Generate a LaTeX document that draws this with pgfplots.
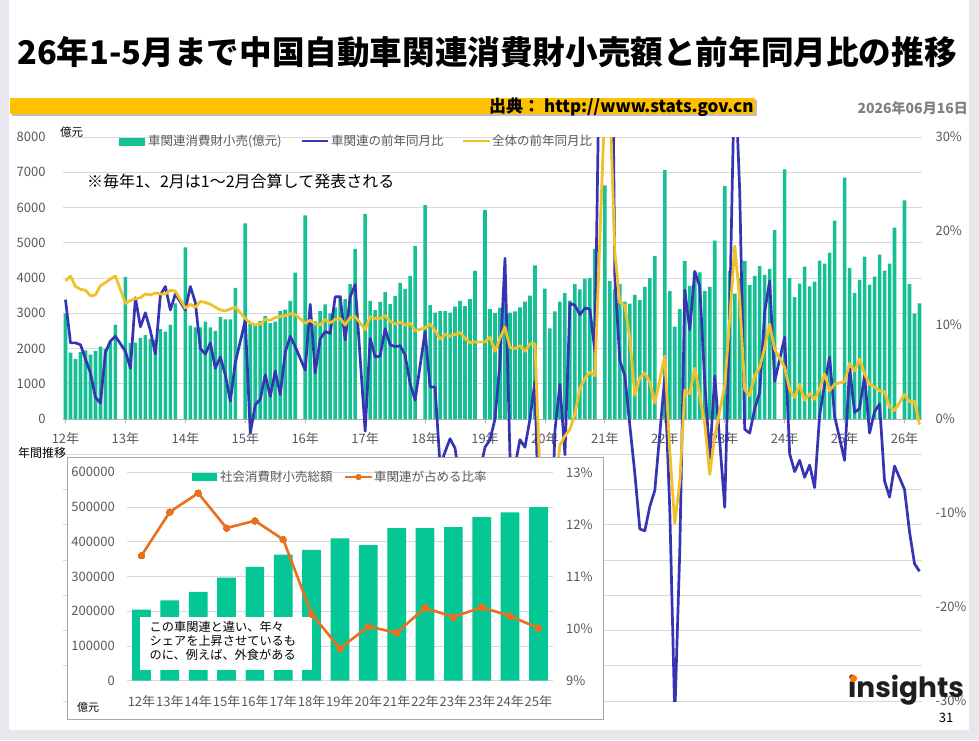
\documentclass[border=0pt]{standalone}
\usepackage{fontspec}
\setmainfont{Noto Sans CJK JP}
\newfontfamily\logofont{Poppins}
\usepackage{pgfplots}
\pgfplotsset{compat=1.18}
\usepackage{pgfplotstable}
\definecolor{cteal}{HTML}{16C094}
\definecolor{ctealb}{HTML}{05C795}
\definecolor{cblue}{HTML}{3434B4}
\definecolor{cyel}{HTML}{F2C12A}
\definecolor{corange}{HTML}{E8701F}
\definecolor{gridgray}{HTML}{D9D9D9}
\definecolor{labgray}{HTML}{595959}
\definecolor{bggray}{HTML}{E6E8EE}
\definecolor{gold}{HTML}{FFC000}

\pgfplotstableread{
s v
0 3000
1 1880
2 1700
3 1900
4 1950
5 1830
6 1930
7 2050
8 2000
9 2200
10 2680
12 4030
13 2150
14 2170
15 2300
16 2380
17 2270
18 2250
19 2550
20 2480
21 2680
22 3280
24 4870
25 2650
26 2600
27 2600
28 2760
29 2600
30 2500
31 2900
32 2830
33 2830
34 3720
36 5550
37 2700
38 2650
39 2780
40 2920
41 2720
42 2760
43 3060
44 3100
45 3350
46 4150
48 5780
49 2830
50 2770
51 3060
52 3250
53 3000
54 3170
55 3500
56 3400
57 3830
58 4830
60 5820
61 3350
62 3090
63 3320
64 3600
65 3260
66 3490
67 3860
68 3690
69 4060
70 4910
72 6070
73 3230
74 3020
75 3060
76 3060
77 3020
78 3190
79 3350
80 3200
81 3400
82 4200
84 5930
85 3120
86 3010
87 3160
88 3400
89 3020
90 3050
91 3170
92 3330
93 3500
94 4360
96 3700
97 2570
98 3050
99 3330
100 3570
101 3360
102 3830
103 3680
104 3980
105 4000
106 4830
108 6630
109 3920
110 3680
111 3830
112 3330
113 3270
114 3520
115 3380
116 3750
117 4000
118 4620
120 7060
121 3630
122 2620
123 3120
124 4480
125 3780
126 4180
127 4160
128 3630
129 3750
130 5060
132 6610
133 4200
134 3560
135 4000
136 4480
137 3800
138 4060
139 4340
140 4090
141 4260
142 5360
144 7080
145 4000
146 3460
147 3840
148 4320
149 3760
150 3900
151 4490
152 4410
153 4720
154 5630
156 6850
157 4290
158 3580
159 3950
160 4610
161 3810
162 4040
163 4660
164 4210
165 4410
166 5430
168 6200
169 3830
170 2990
171 3280
}\barsdata

\pgfplotstableread{
s v
0 12.7
1 8.1
2 8.1
3 7.9
4 6.4
5 4.9
6 2.3
7 1.7
8 7.1
9 8.3
10 8.8
12 7.2
13 5.4
14 12.9
15 9.8
16 11.3
17 9.4
18 6.9
19 13.2
20 14.1
21 11.6
22 13.3
24 11.6
25 14.1
26 12.4
27 7.5
28 6.9
29 8.1
30 5.4
31 6.6
32 4.7
33 1.9
34 6.0
36 10.5
37 -1.5
38 1.5
39 2.1
40 4.7
41 2.4
42 5.1
43 2.6
44 7.1
45 8.8
46 7.7
48 5.2
49 12.2
50 4.9
51 8.5
52 9.3
53 9.1
54 13.0
55 13.0
56 8.4
57 13.0
58 14.3
60 -1.3
61 8.6
62 6.6
63 6.7
64 9.6
65 7.9
66 7.7
67 7.8
68 6.8
69 3.8
70 2.0
72 9.3
73 3.4
74 3.4
75 -5.0
76 -3.5
77 -2.1
78 -3.1
79 -7.0
80 -6.0
81 -9.0
82 -8.0
84 -3.0
85 -2.2
86 0.0
87 6.0
88 17.1
89 -4.0
90 -5.0
91 -2.2
92 -3.0
93 0.0
94 4.0
96 -37.0
97 -18.0
98 -1.2
99 3.7
100 -3.8
101 12.3
102 12.1
103 11.1
104 11.8
105 11.7
106 7.2
108 77.6
109 68.2
110 15.0
111 6.2
112 4.6
113 -0.7
114 -5.8
115 -11.7
116 -11.9
117 -9.3
118 -7.6
120 4.5
121 -9.7
122 -31.6
123 -14.0
124 13.7
125 9.5
126 15.7
127 14.1
128 3.9
129 -4.2
130 4.6
132 -9.4
133 11.5
134 38.0
135 24.2
136 -1.1
137 -1.5
138 1.1
139 2.8
140 11.4
141 14.7
142 4.0
144 8.7
145 -3.7
146 -5.6
147 -4.4
148 -6.2
149 -4.9
150 -7.3
151 0.4
152 3.7
153 6.6
154 0.3
156 -4.4
157 5.5
158 0.7
159 1.1
160 4.6
161 -1.5
162 0.8
163 1.6
164 -6.6
165 -8.3
166 -5.0
168 -7.5
169 -12.0
170 -15.4
171 -16.2
}\bluedata

\pgfplotstableread{
s v
0 14.7
1 15.2
2 14.1
3 13.8
4 13.7
5 13.1
6 13.2
7 14.2
8 14.5
9 14.9
10 15.2
12 12.3
13 12.6
14 12.8
15 12.9
16 13.3
17 13.2
18 13.4
19 13.3
20 13.3
21 13.7
22 13.6
24 11.8
25 12.2
26 11.9
27 12.5
28 12.4
29 12.2
30 11.9
31 11.6
32 11.5
33 11.7
34 11.9
36 10.7
37 10.2
38 10.0
39 10.1
40 10.6
41 10.5
42 10.8
43 10.9
44 11.0
45 11.2
46 11.1
48 10.2
49 10.5
50 10.1
51 10.0
52 10.6
53 10.2
54 10.6
55 10.7
56 10.0
57 10.8
58 10.9
60 9.5
61 10.9
62 10.7
63 10.7
64 11.0
65 10.4
66 10.1
67 10.3
68 10.0
69 10.2
70 9.4
72 9.7
73 10.1
74 9.4
75 8.5
76 9.0
77 8.8
78 9.0
79 9.2
80 8.6
81 8.1
82 8.2
84 8.2
85 8.7
86 7.2
87 8.6
88 9.8
89 7.6
90 7.5
91 7.8
92 7.2
93 8.0
94 8.0
96 -20.5
97 -15.8
98 -7.5
99 -2.8
100 -1.8
101 -1.1
102 0.5
103 3.3
104 4.3
105 5.0
106 4.6
108 33.8
109 34.2
110 17.7
111 12.4
112 12.1
113 8.5
114 2.5
115 4.4
116 4.9
117 3.9
118 1.7
120 6.7
121 -3.5
122 -11.1
123 -6.7
124 3.1
125 2.7
126 5.4
127 2.5
128 -0.5
129 -5.9
130 -1.8
132 3.5
133 10.6
134 18.4
135 12.7
136 3.1
137 2.5
138 4.6
139 5.5
140 7.6
141 10.1
142 7.4
144 5.5
145 3.1
146 2.3
147 3.7
148 2.0
149 2.7
150 2.1
151 3.2
152 4.8
153 3.0
154 3.7
156 4.0
157 5.9
158 5.1
159 6.4
160 4.8
161 3.7
162 3.4
163 3.0
164 2.9
165 1.3
166 0.9
168 2.6
169 1.8
170 1.9
171 -0.6
}\yeldata

\pgfplotstableread{
c v r
0 205000 11.40
1 231000 12.24
2 256000 12.60
3 297000 11.93
4 328000 12.07
5 363000 11.71
6 377000 10.28
7 410000 9.62
8 390000 10.04
9 439000 9.92
10 439000 10.40
11 442000 10.22
12 471000 10.41
13 485000 10.24
14 500000 10.01
}\yeardata

\begin{document}
\begin{tikzpicture}
\begin{scope}[x=1pt,y=1pt]
\useasboundingbox (0,0) rectangle (979,740);
\fill[bggray] (0,0) rectangle (979,740);
\fill[white] (9,10) rectangle (969,740);
% title
\node[font=\fontsize{32.6}{32.6}\selectfont\bfseries, anchor=center] at (487,688) {26年1-5月まで中国自動車関連消費財小売額と前年同月比の推移};
% header bar
\fill[black!25] (11.5,623.5) rectangle (756.5,640);
\fill[gold] (10,626) rectangle (755,642);
\node[font=\fontsize{17}{17}\selectfont\bfseries, anchor=west, inner sep=0pt] at (489,633) {出典： http://www.stats.gov.cn};
\node[font=\fontsize{14}{14}\selectfont\bfseries, text=black!50, anchor=east, inner sep=0pt] at (968,632) {2026年06月16日};
\end{scope}

% main chart: bars (left axis)
\begin{axis}[at={(63pt,39pt)}, anchor=south west, width=859pt, height=564pt, scale only axis,
  xmin=-0.5, xmax=171.5, ymin=-8000, ymax=8000,
  axis x line*=middle, axis y line*=left,
  y axis line style={draw=none}, x axis line style={draw=black!30, line width=0.8pt},
  ytick={-8000,-7000,...,8000},
  yticklabels={,,,,,,,,0,1000,2000,3000,4000,5000,6000,7000,8000},
  ymajorgrids, grid style={gridgray, line width=0.8pt},
  ytick style={draw=none},
  xtick={0,12,...,168},
  xticklabels={12年,13年,14年,15年,16年,17年,18年,19年,20年,21年,22年,23年,24年,25年,26年},
  xtick style={draw=black!30, line width=0.8pt},
  major tick length=4pt, tick align=outside,
  tick label style={font=\fontsize{13}{13}\selectfont, text=labgray},
  yticklabel style={xshift=-10pt},
  xticklabel style={yshift=-6pt},
  scaled y ticks=false,
  clip=true]
\addplot[ybar, bar width=3.6pt, fill=cteal, draw=none] table[x=s,y=v]{\barsdata};
\end{axis}

% main chart: lines (right axis)
\begin{axis}[at={(63pt,39pt)}, anchor=south west, width=859pt, height=564pt, scale only axis,
  xmin=-0.5, xmax=171.5, ymin=-30, ymax=30,
  axis x line=none, axis y line*=right, y axis line style={draw=none},
  ytick={-30,-20,...,30},
  yticklabels={-30\%,-20\%,-10\%,0\%,10\%,20\%,30\%},
  ytick style={draw=none}, major tick length=0pt,
  tick label style={font=\fontsize{13}{13}\selectfont, text=labgray},
  yticklabel style={xshift=10pt},
  clip=true]
\addplot[cblue, line width=2.7pt, line join=round, no marks] table[x=s,y=v]{\bluedata};
\addplot[cyel, line width=2.8pt, line join=round, no marks] table[x=s,y=v]{\yeldata};
\end{axis}

\begin{scope}[x=1pt,y=1pt]
% main legend
\fill[cteal] (119,594) rectangle (145,602);
\node[anchor=west, inner sep=0pt, font=\fontsize{12.5}{12.5}\selectfont, text=labgray] at (148,599) {車関連消費財小売(億元)};
\draw[cblue, line width=2.6pt] (302,599) -- (328,599);
\node[anchor=west, inner sep=0pt, font=\fontsize{12.5}{12.5}\selectfont, text=labgray] at (331,599) {車関連の前年同月比};
\draw[cyel, line width=2.6pt] (463,599) -- (490,599);
\node[anchor=west, inner sep=0pt, font=\fontsize{12.5}{12.5}\selectfont, text=labgray] at (492,599) {全体の前年同月比};
\node[anchor=center, inner sep=0pt, font=\fontsize{11.5}{11.5}\selectfont] at (71.5,607.5) {億元};
\node[anchor=west, inner sep=0pt, font=\fontsize{16}{16}\selectfont] at (87,559) {※毎年1、2月は1～2月合算して発表される};
\node[anchor=west, inner sep=0pt, font=\fontsize{12}{12}\selectfont] at (18,287) {年間推移};
% inset frame
\filldraw[fill=white, draw=black!35, line width=0.8pt] (67,21) rectangle (603,283);
\end{scope}

\begin{axis}[at={(127.3pt,59.3pt)}, anchor=south west, width=425.3pt, height=208.4pt, scale only axis,
  xmin=-0.5, xmax=14.5, ymin=0, ymax=600000,
  axis x line*=bottom, axis y line*=left,
  y axis line style={draw=none}, x axis line style={draw=gridgray, line width=0.8pt},
  ytick={0,100000,...,600000},
  yticklabels={0,100000,200000,300000,400000,500000,600000},
  scaled y ticks=false,
  ymajorgrids, grid style={gridgray, line width=0.8pt},
  xtick={0,...,14},
  xticklabels={12年,13年,14年,15年,16年,17年,18年,19年,20年,21年,22年,23年,23年,24年,25年},
  major tick length=0pt, tick style={draw=none},
  tick label style={font=\fontsize{13}{13}\selectfont, text=labgray},
  yticklabel style={xshift=-9pt},
  xticklabel style={yshift=-11pt},
  clip=false]
\addplot[ybar, bar width=18.7pt, fill=ctealb, draw=none] table[x=c,y=v]{\yeardata};
\end{axis}

\begin{scope}[x=1pt,y=1pt]
\fill[white] (140,70) rectangle (311.5,123.5);
\node[anchor=north west, align=left, inner sep=0pt, font=\fontsize{12.2}{14.3}\selectfont] at (149.5,119.5) {この車関連と違い、年々\\シェアを上昇させているも\\のに、例えば、外食がある};
\end{scope}

\begin{axis}[at={(127.3pt,59.3pt)}, anchor=south west, width=425.3pt, height=208.4pt, scale only axis,
  xmin=-0.5, xmax=14.5, ymin=9, ymax=13,
  axis x line=none, axis y line*=right, y axis line style={draw=none},
  ytick={9,10,11,12,13}, yticklabels={9\%,10\%,11\%,12\%,13\%},
  major tick length=0pt, tick style={draw=none},
  tick label style={font=\fontsize{13}{13}\selectfont, text=labgray},
  yticklabel style={xshift=10pt},
  clip=false]
\addplot[corange, line width=2.6pt, line join=round, mark=*, mark size=3.3pt, mark options={fill=corange, draw=corange, line width=0pt}] table[x=c,y=r]{\yeardata};
\end{axis}

\begin{scope}[x=1pt,y=1pt]
% inset legend
\fill[ctealb] (192,259) rectangle (217,267);
\node[anchor=west, inner sep=0pt, font=\fontsize{12.5}{12.5}\selectfont, text=labgray] at (220,263) {社会消費財小売総額};
\draw[corange, line width=2.6pt] (345,263) -- (372,263);
\fill[corange] (358.5,263) circle (3.2);
\node[anchor=west, inner sep=0pt, font=\fontsize{12.5}{12.5}\selectfont, text=labgray] at (374,263) {車関連が占める比率};
\node[anchor=center, inner sep=0pt, font=\fontsize{11}{11}\selectfont] at (88,33) {億元};
% logo and page number
\node[anchor=base west, inner sep=0pt, font=\logofont\fontsize{28}{28}\selectfont\bfseries, text=black!88] at (848,43) {insights};
\fill[orange!90!red] (853.5,61.5) circle (3.6);
\node[anchor=center, inner sep=0pt, font=\fontsize{13}{13}\selectfont] at (946,22) {31};
\end{scope}
\end{tikzpicture}
\end{document}
